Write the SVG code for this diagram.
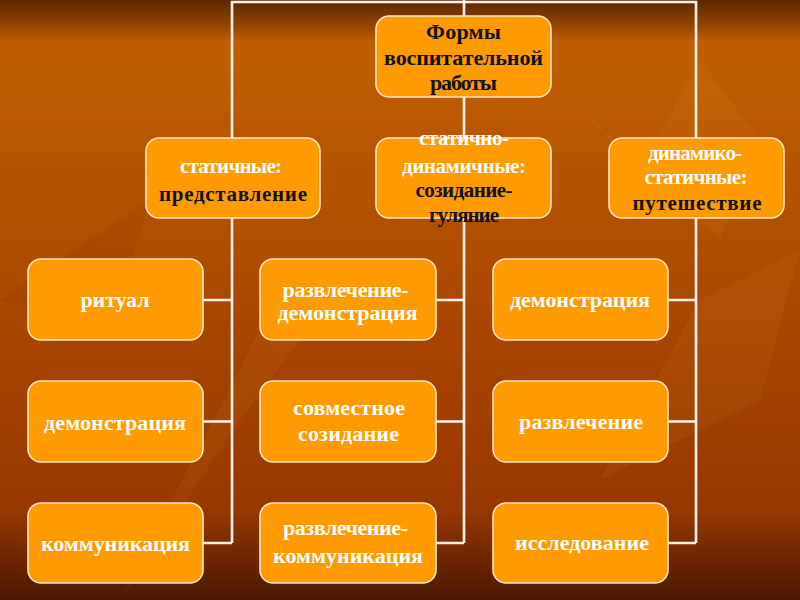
<svg xmlns="http://www.w3.org/2000/svg" width="800" height="600" viewBox="0 0 800 600">
  <defs>
    <linearGradient id="bg" x1="0" y1="0" x2="0" y2="1">
      <stop offset="0" stop-color="#5e2800"/>
      <stop offset="0.035" stop-color="#8a3e00"/>
      <stop offset="0.07" stop-color="#c05e00"/>
      <stop offset="0.3" stop-color="#b65300"/>
      <stop offset="0.6" stop-color="#a54300"/>
      <stop offset="0.85" stop-color="#973800"/>
      <stop offset="0.93" stop-color="#6e2600"/>
      <stop offset="1" stop-color="#4a1800"/>
    </linearGradient>
    <style>
      .box { fill: #ff9a00; stroke: #ffe6c2; stroke-width: 1.6; }
      .conn { fill: none; stroke: #fbf3ea; stroke-width: 2.6; }
      text { font-family: "Liberation Serif", "Times New Roman", serif; font-weight: bold; text-anchor: middle; }
      .w { fill: #ffffff; }
      .k { fill: #111111; }
      .t1 { font-size: 22px; }
      .t2 { font-size: 21px; }
      .t3 { font-size: 22px; }
    </style>
  </defs>

  <rect x="0" y="0" width="800" height="600" fill="url(#bg)"/>
  <g id="background-leaves" opacity="0.07">
    <path d="M120 600 L260 330 L330 300 L240 420 Z" fill="#ffb040"/>
    <path d="M560 90 L640 170 L700 60 L760 140 L720 240 Z" fill="#ffb040"/>
    <path d="M600 480 L700 300 L800 250 L760 400 Z" fill="#ffb040"/>
    <path d="M0 300 L150 200 L110 330 Z" fill="#5a1800"/>
  </g>

  <g id="connectors">
    <path class="conn" d="M232 138 V2 H696 V138"/>
    <path class="conn" d="M464 0 V16"/>
    <path class="conn" d="M464 97 V138"/>
    <path class="conn" d="M232 218 V543 M203 300 H232 M203 421.5 H232 M203 543 H232"/>
    <path class="conn" d="M464 218 V543 M436 300 H464 M436 421.5 H464 M436 543 H464"/>
    <path class="conn" d="M696 218 V543 M668 300 H696 M668 421.5 H696 M668 543 H696"/>
  </g>

  <g id="root">
    <rect class="box" x="376" y="16" width="175" height="81" rx="13"/>
    <text class="k t1" x="463.5" y="39" textLength="75" lengthAdjust="spacing">Формы</text>
    <text class="k t1" x="463.5" y="65" textLength="159" lengthAdjust="spacing">воспитательной</text>
    <text class="k t1" x="463.5" y="90" textLength="67" lengthAdjust="spacing">работы</text>
  </g>

  <g id="static">
    <rect class="box" x="146" y="138" width="174" height="80" rx="13"/>
    <text class="w t2" x="231" y="173" textLength="102" lengthAdjust="spacing">статичные:</text>
    <text class="k t2" x="233" y="201" textLength="148" lengthAdjust="spacing">представление</text>
  </g>

  <g id="static-dynamic">
    <rect class="box" x="376" y="138" width="175" height="80" rx="13"/>
    <text class="w t2" x="464" y="145" textLength="90" lengthAdjust="spacing">статично-</text>
    <text class="w t2" x="464" y="173" textLength="124" lengthAdjust="spacing">динамичные:</text>
    <text class="k t2" x="464" y="197" textLength="97" lengthAdjust="spacing">созидание-</text>
    <text class="k t2" x="464" y="222" textLength="70" lengthAdjust="spacing">гуляние</text>
  </g>

  <g id="dynamic-static">
    <rect class="box" x="609" y="138" width="175" height="80" rx="13"/>
    <text class="w t2" x="695" y="160" textLength="94" lengthAdjust="spacing">динамико-</text>
    <text class="w t2" x="696" y="184" textLength="103" lengthAdjust="spacing">статичные:</text>
    <text class="k t2" x="697" y="210" textLength="129" lengthAdjust="spacing">путешествие</text>
  </g>

  <g id="ritual">
    <rect class="box" x="28" y="259" width="175" height="81" rx="13"/>
    <text class="w t3" x="115" y="307" textLength="69" lengthAdjust="spacing">ритуал</text>
  </g>
  <g id="demonstration-left">
    <rect class="box" x="28" y="381" width="175" height="81" rx="13"/>
    <text class="w t3" x="115" y="430" textLength="142" lengthAdjust="spacing">демонстрация</text>
  </g>
  <g id="communication-left">
    <rect class="box" x="28" y="503" width="175" height="80" rx="13"/>
    <text class="w t3" x="115.5" y="551" textLength="149" lengthAdjust="spacing">коммуникация</text>
  </g>

  <g id="entertainment-demonstration">
    <rect class="box" x="260" y="259" width="176" height="81" rx="13"/>
    <text class="w t3" x="345.5" y="297" textLength="126" lengthAdjust="spacing">развлечение-</text>
    <text class="w t3" x="347.5" y="320" textLength="140" lengthAdjust="spacing">демонстрация</text>
  </g>
  <g id="joint-creation">
    <rect class="box" x="260" y="381" width="176" height="81" rx="13"/>
    <text class="w t3" x="349" y="415" textLength="112" lengthAdjust="spacing">совместное</text>
    <text class="w t3" x="348.5" y="441" textLength="101" lengthAdjust="spacing">созидание</text>
  </g>
  <g id="entertainment-communication">
    <rect class="box" x="260" y="503" width="176" height="80" rx="13"/>
    <text class="w t3" x="345.5" y="535" textLength="125" lengthAdjust="spacing">развлечение-</text>
    <text class="w t3" x="348" y="563" textLength="150" lengthAdjust="spacing">коммуникация</text>
  </g>

  <g id="demonstration-right">
    <rect class="box" x="493" y="259" width="175" height="81" rx="13"/>
    <text class="w t3" x="580" y="307" textLength="140" lengthAdjust="spacing">демонстрация</text>
  </g>
  <g id="entertainment">
    <rect class="box" x="493" y="381" width="175" height="81" rx="13"/>
    <text class="w t3" x="581" y="429" textLength="124" lengthAdjust="spacing">развлечение</text>
  </g>
  <g id="research">
    <rect class="box" x="493" y="503" width="175" height="80" rx="13"/>
    <text class="w t3" x="582" y="550" textLength="134" lengthAdjust="spacing">исследование</text>
  </g>
</svg>
